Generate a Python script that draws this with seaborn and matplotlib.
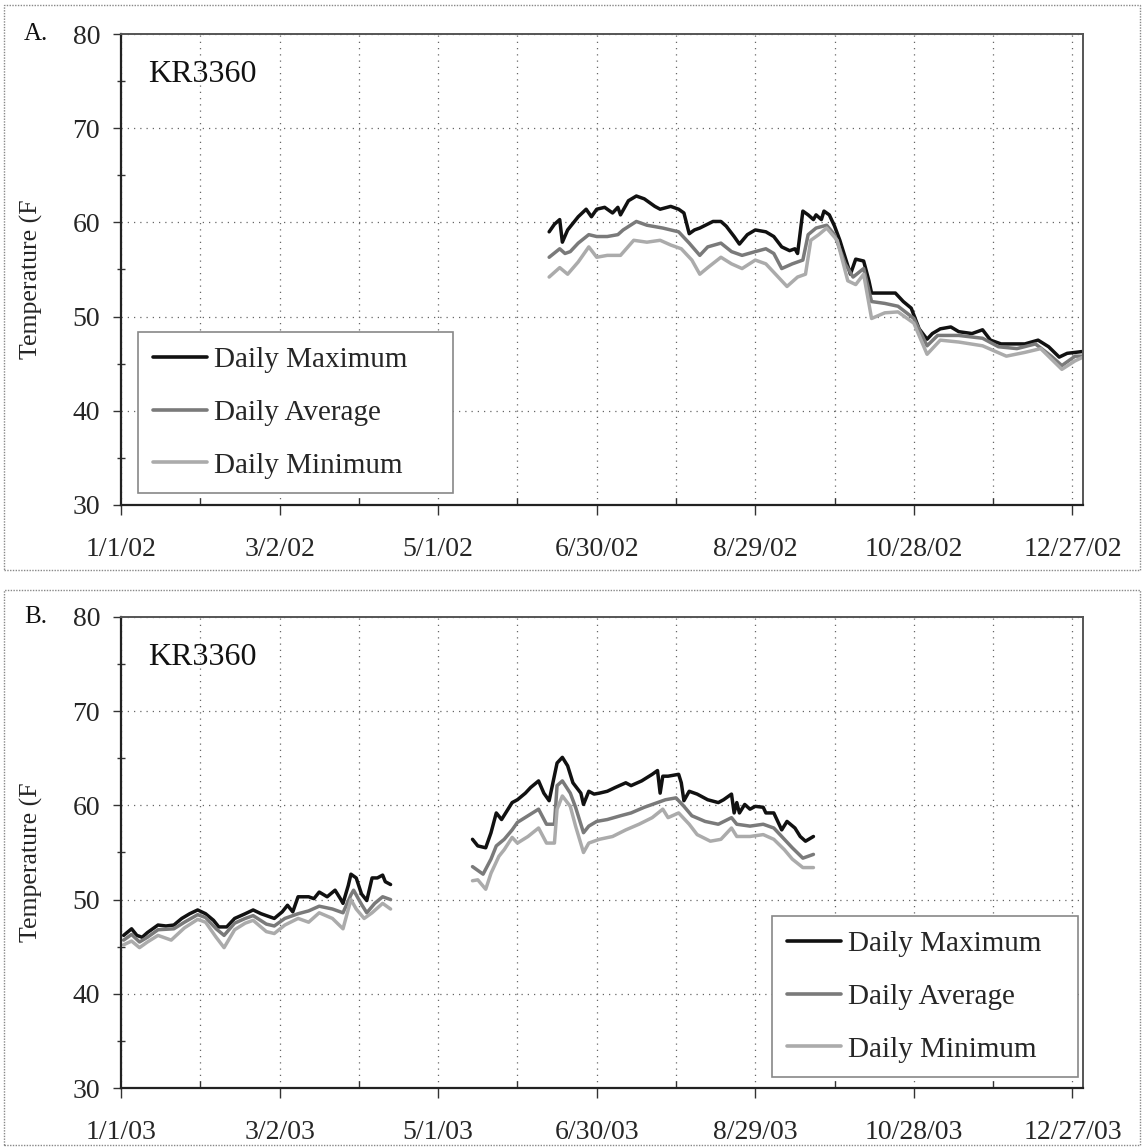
import numpy as np
import pandas as pd
import matplotlib
matplotlib.use("Agg")
import matplotlib.pyplot as plt
import seaborn as sns
from matplotlib.patches import Rectangle
from matplotlib.ticker import MultipleLocator

# ---------------- data (day offset from Jan 1, temperature F) ----------------
# Panel A (2002)
a_max_day = [162, 164, 166, 167, 169, 173, 176, 178, 180, 183, 186, 188, 189, 192, 195, 198, 202, 204, 208, 211,
             213, 215, 217, 219, 224, 227, 229, 232, 234, 237, 240, 244, 247, 250, 253, 255, 256, 258, 260, 262,
             263, 265, 266, 268, 270, 272, 274, 276, 278, 281, 283, 284, 289, 293, 296, 299, 302, 305, 307, 310,
             314, 317, 322, 326, 329, 333, 338, 342, 347, 351, 355, 358, 361, 364]
a_max_val = [59.0, 59.8, 60.3, 57.9, 59.2, 60.6, 61.4, 60.6, 61.4, 61.6, 61.0, 61.6, 60.8, 62.3, 62.8, 62.5, 61.7, 61.4, 61.7, 61.4,
             61.0, 58.8, 59.2, 59.4, 60.1, 60.1, 59.6, 58.5, 57.7, 58.7, 59.2, 59.0, 58.5, 57.4, 57.0, 57.2, 56.7, 61.2, 60.8, 60.3,
             60.8, 60.3, 61.2, 60.8, 59.6, 58.1, 56.3, 54.5, 56.1, 55.9, 53.8, 52.5, 52.5, 52.5, 51.6, 50.9, 48.7, 47.6, 48.2, 48.7,
             48.9, 48.4, 48.2, 48.6, 47.5, 47.1, 47.1, 47.1, 47.5, 46.8, 45.7, 46.1, 46.2, 46.3]

a_avg_day = [162, 166, 168, 170, 173, 177, 180, 184, 188, 190, 195, 199, 205, 211, 215, 219, 222, 227, 231, 235,
             240, 244, 247, 250, 254, 258, 260, 263, 267, 270, 274, 277, 281, 284, 289, 294, 300, 305, 309, 317,
             326, 332, 339, 346, 352, 356, 361, 364]
a_avg_val = [56.3, 57.2, 56.7, 56.9, 57.8, 58.7, 58.5, 58.5, 58.7, 59.2, 60.1, 59.7, 59.4, 59.0, 57.8, 56.5, 57.4, 57.8, 56.9, 56.5,
             56.9, 57.2, 56.7, 55.1, 55.6, 56.0, 58.7, 59.4, 59.7, 58.7, 55.6, 54.2, 55.1, 51.6, 51.4, 51.1, 49.8, 46.9, 48.0, 48.0,
             47.7, 46.8, 46.6, 47.1, 45.8, 44.8, 45.8, 45.8]

a_min_day = [162, 166, 169, 173, 177, 180, 184, 189, 194, 199, 204, 208, 212, 216, 219, 222, 227, 231, 235, 240,
             244, 248, 252, 256, 259, 261, 264, 267, 271, 275, 278, 281, 284, 289, 294, 300, 305, 310, 317, 326,
             335, 342, 348, 352, 356, 361, 364]
a_min_val = [54.2, 55.2, 54.5, 55.8, 57.4, 56.3, 56.5, 56.5, 58.1, 57.9, 58.1, 57.6, 57.2, 56.0, 54.5, 55.2, 56.3, 55.6, 55.1, 56.0,
             55.6, 54.4, 53.2, 54.2, 54.5, 58.1, 58.7, 59.4, 58.1, 53.8, 53.4, 54.5, 49.8, 50.4, 50.5, 49.3, 46.0, 47.5, 47.3, 46.9,
             45.8, 46.2, 46.6, 45.5, 44.4, 45.3, 45.7]

# Panel B (2003), two recording segments
b_max_day = [1, 4, 6, 8, 10, 14, 17, 20, 23, 26, 29, 32, 35, 37, 40, 43, 47, 50, 53, 57, 58, 61, 63, 65, 67, 71, 73, 75,
             78, 81, 83, 84, 86, 87, 89, 91, 93, 95, 97, 99, 100, 102,
             133, 135, 138, 140, 142, 144, 148, 150, 153, 155, 158, 160, 162, 165, 167, 169, 171, 174, 175, 177, 179, 181,
             184, 187, 191, 193, 197, 201, 203, 204, 205, 207, 211, 212, 213, 215, 218, 222, 226, 228, 231, 232, 233, 234,
             236, 238, 240, 243, 244, 247, 250, 252, 255, 257, 259, 262]
b_max_val = [46.2, 46.9, 46.2, 46.0, 46.5, 47.3, 47.2, 47.3, 48.0, 48.5, 48.9, 48.5, 47.8, 47.1, 47.1, 48.0, 48.5, 48.9, 48.5, 48.1,
             48.0, 48.7, 49.4, 48.7, 50.3, 50.3, 50.1, 50.8, 50.3, 51.0, 50.1, 49.6, 51.5, 52.7, 52.3, 50.6, 49.9, 52.3, 52.3, 52.6,
             51.9, 51.6,
             56.4, 55.7, 55.5, 57.1, 59.2, 58.5, 60.3, 60.6, 61.3, 61.9, 62.6, 61.3, 60.5, 64.5, 65.1, 64.2, 62.4, 61.3, 60.1, 61.5,
             61.2, 61.3, 61.5, 61.9, 62.4, 62.1, 62.6, 63.3, 63.7, 61.3, 63.1, 63.1, 63.3, 62.4, 60.5, 61.5, 61.2, 60.6, 60.3, 60.6,
             61.2, 59.2, 60.3, 59.2, 60.1, 59.6, 59.9, 59.8, 59.2, 59.2, 57.4, 58.3, 57.6, 56.7, 56.2, 56.7]
b_max_seg = [1] * 42 + [2] * 58

b_avg_day = [1, 4, 7, 10, 14, 20, 24, 29, 32, 36, 39, 43, 47, 50, 55, 58, 62, 67, 71, 75, 80, 84, 87, 88, 91, 93, 96, 99, 102,
             133, 137, 140, 142, 145, 148, 150, 154, 158, 161, 164, 165, 167, 170, 172, 175, 177, 180, 184, 189, 193, 198,
             203, 206, 210, 213, 216, 221, 226, 231, 233, 238, 243, 247, 251, 254, 258, 262]
b_avg_val = [45.7, 46.3, 45.5, 46.0, 46.8, 46.9, 47.6, 48.4, 48.1, 46.9, 46.2, 47.5, 48.0, 48.3, 47.4, 47.2, 48.0, 48.5, 48.8,
             49.3, 49.0, 48.6, 50.5, 51.0, 49.5, 48.6, 49.6, 50.3, 50.0,
             53.5, 52.7, 54.3, 55.7, 56.4, 57.4, 58.2, 58.9, 59.6, 58.0, 58.0, 62.1, 62.6, 61.3, 59.8, 57.1, 57.8, 58.3, 58.5,
             58.9, 59.2, 59.8, 60.3, 60.6, 60.8, 59.9, 58.9, 58.3, 58.0, 58.7, 58.0, 57.8, 58.0, 57.6, 56.4, 55.5, 54.4, 54.8]
b_avg_seg = [1] * 29 + [2] * 38

b_min_day = [1, 4, 7, 10, 14, 19, 24, 29, 32, 36, 39, 43, 47, 50, 55, 58, 62, 67, 71, 75, 80, 84, 87, 89, 92, 95, 99, 102,
             133, 135, 138, 140, 143, 145, 148, 150, 154, 158, 161, 164, 165, 167, 170, 172, 175, 177, 181, 186, 191, 196,
             201, 205, 207, 211, 215, 218, 223, 227, 231, 233, 238, 243, 247, 251, 254, 258, 262]
b_min_val = [45.2, 45.6, 44.9, 45.5, 46.2, 45.7, 47.0, 47.9, 47.6, 46.0, 44.9, 46.8, 47.5, 47.8, 46.6, 46.4, 47.3, 48.0, 47.6,
             48.6, 48.0, 46.9, 50.0, 49.0, 48.0, 48.6, 49.6, 49.0,
             52.0, 52.1, 51.1, 52.8, 54.6, 55.3, 56.6, 56.0, 56.7, 57.6, 56.0, 56.0, 59.6, 61.0, 59.9, 57.8, 55.0, 56.0, 56.4,
             56.7, 57.4, 58.0, 58.7, 59.6, 58.7, 59.2, 58.0, 56.9, 56.2, 56.4, 57.6, 56.7, 56.7, 56.9, 56.4, 55.3, 54.3, 53.4, 53.4]
b_min_seg = [1] * 28 + [2] * 39

series_names = ["Daily Maximum", "Daily Average", "Daily Minimum"]
station = "KR3360"
panel_letters = ["A.", "B."]
years = [2002, 2003]
xtick_days = [0, 60, 120, 180, 240, 300, 360]
xtick_labels_a = ["1/1/02", "3/2/02", "5/1/02", "6/30/02", "8/29/02", "10/28/02", "12/27/02"]
xtick_labels_b = ["1/1/03", "3/2/03", "5/1/03", "6/30/03", "8/29/03", "10/28/03", "12/27/03"]
ytick_vals = [30, 40, 50, 60, 70, 80]


def build(year, parts):
    rows = []
    start = pd.Timestamp(year=year, month=1, day=1)
    for name, days, vals, segs in parts:
        for d, v, s in zip(days, vals, segs):
            rows.append({"date": start + pd.Timedelta(days=d), "temp": v, "series": name, "seg": s})
    return pd.DataFrame(rows)


df_a = build(2002, [
    (series_names[0], a_max_day, a_max_val, [1] * len(a_max_day)),
    (series_names[1], a_avg_day, a_avg_val, [1] * len(a_avg_day)),
    (series_names[2], a_min_day, a_min_val, [1] * len(a_min_day)),
])
df_b = build(2003, [
    (series_names[0], b_max_day, b_max_val, b_max_seg),
    (series_names[1], b_avg_day, b_avg_val, b_avg_seg),
    (series_names[2], b_min_day, b_min_val, b_min_seg),
])

# ---------------- style ----------------
sns.set_theme(style="white")
plt.rcParams["font.family"] = ["Liberation Serif", "DejaVu Serif"]
plt.rcParams["axes.unicode_minus"] = False

palette = {series_names[0]: "#111111", series_names[1]: "#7a7a7a", series_names[2]: "#ababab"}

W, H = 1143, 1147
fig = plt.figure(figsize=(W / 100, H / 100), dpi=100)
fig.patch.set_facecolor("white")

left_px, right_px = 121, 1083
axes_px = [(34, 505), (617, 1088)]
legend_anchor = [(0.0177, 0.025), (0.677, 0.023)]
legend_width = [0.327, 0.318]
box_px = [(5, 570), (590, 1145)]

for i, (df, year, xl) in enumerate([(df_a, 2002, xtick_labels_a), (df_b, 2003, xtick_labels_b)]):
    top_px, bot_px = axes_px[i]
    ax = fig.add_axes([left_px / W, 1 - bot_px / H, (right_px - left_px) / W, (bot_px - top_px) / H])

    sns.lineplot(data=df, x="date", y="temp", hue="series", units="seg", estimator=None,
                 palette=palette, hue_order=series_names, linewidth=2.5, ax=ax, sort=False)

    start = pd.Timestamp(year=year, month=1, day=1)
    ax.set_xlim(start, start + pd.Timedelta(days=364))
    ax.set_ylim(30, 80)

    major = [start + pd.Timedelta(days=d) for d in xtick_days]
    minor = [start + pd.Timedelta(days=d) for d in range(30, 361, 60)]
    ax.set_xticks(major)
    ax.set_xticklabels(xl)
    ax.set_xticks(minor, minor=True)
    ax.set_yticks(ytick_vals)
    ax.yaxis.set_minor_locator(MultipleLocator(5))

    ax.grid(True, which="both", axis="x", color="#666666", linestyle=(0, (1, 4)), linewidth=0.9)
    ax.grid(True, which="major", axis="y", color="#666666", linestyle=(0, (1, 4)), linewidth=0.9)

    ax.tick_params(axis="x", which="major", direction="out", length=7, width=1, color="#333333",
                   labelsize=20, pad=16, bottom=True)
    ax.tick_params(axis="x", which="minor", direction="in", length=5, width=1, color="#333333", bottom=True)
    ax.tick_params(axis="y", which="major", direction="out", length=6, width=1, color="#333333",
                   labelsize=20, pad=9, left=True)
    ax.tick_params(axis="y", which="minor", direction="inout", length=6, width=1, color="#333333", left=True)

    for side in ["left", "bottom"]:
        ax.spines[side].set_color("#222222")
        ax.spines[side].set_linewidth(1.6)
    for side in ["top", "right"]:
        ax.spines[side].set_color("#555555")
        ax.spines[side].set_linewidth(1.4)

    ax.set_xlabel("")
    ax.set_ylabel("Temperature (F", fontsize=18.5)
    ax.yaxis.set_label_coords(-0.081, 0.48)

    ax.text(0.028, 0.915, station, transform=ax.transAxes, fontsize=23, va="center", ha="left", color="#111111")

    handles, labels = ax.get_legend_handles_labels()
    leg = ax.legend(handles, labels, loc="lower left",
                    bbox_to_anchor=(legend_anchor[i][0], legend_anchor[i][1], legend_width[i], 0.3),
                    mode="expand", fontsize=21, frameon=True, fancybox=False, framealpha=1,
                    edgecolor="#888888", handlelength=1.85, handletextpad=0.25, labelspacing=0.9,
                    borderpad=0.5, borderaxespad=0)
    leg.get_frame().set_linewidth(1.2)
    for lh in leg.get_lines():
        lh.set_linewidth(2.6)

    fig.text(24 / W, 1 - top_px / H, panel_letters[i], fontsize=18, ha="left", va="center", color="#111111")

    b0, b1 = box_px[i]
    fig.patches.append(Rectangle((4 / W, 1 - b1 / H), 1136 / W, (b1 - b0) / H, transform=fig.transFigure,
                                 fill=False, edgecolor="#888888", linewidth=1.0, linestyle=(0, (1, 1))))

fig.savefig("out.png", dpi=100, facecolor="white")
